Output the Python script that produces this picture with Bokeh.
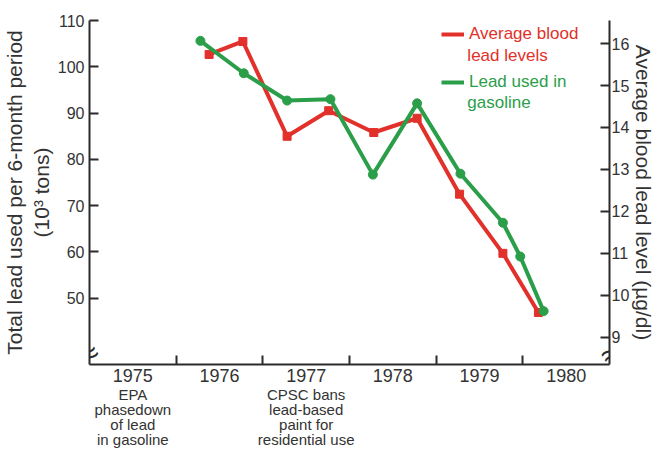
from bokeh.plotting import figure
from bokeh.models import (Range1d, LinearAxis, FixedTicker, Legend, LegendItem, Label)
from bokeh.embed import file_html
from bokeh.resources import INLINE

# ---- data ----
year_labels = ["1975", "1976", "1977", "1978", "1979", "1980"]
year_label_pos = [1975.5, 1976.5, 1977.5, 1978.5, 1979.5, 1980.5]
year_ticks = [1976, 1977, 1978, 1979, 1980]

note_pos = [1975.5, 1977.5]
note_text = ["EPA\nphasedown\nof lead\nin gasoline",
             "CPSC bans\nlead-based\npaint for\nresidential use"]

gas_x = [1976.28, 1976.78, 1977.28, 1977.78, 1978.27, 1978.78, 1979.28, 1979.77, 1979.97, 1980.24]
gas_y = [105.6, 98.6, 92.7, 93.0, 76.7, 92.1, 76.9, 66.3, 59.0, 47.2]

blood_x = [1976.38, 1976.77, 1977.28, 1977.76, 1978.28, 1978.78, 1979.27, 1979.77, 1980.18]
blood_y = [15.74, 16.05, 13.79, 14.40, 13.88, 14.22, 12.41, 11.00, 9.59]

left_ticks = [50, 60, 70, 80, 90, 100, 110]
right_ticks = [9, 10, 11, 12, 13, 14, 15, 16]

RED = "#e2302a"
GREEN = "#2b9e4a"
AX = "#2b2b2b"
TXT = "#333333"
FONT = "Liberation Sans"

p = figure(width=659, height=451, output_backend="svg", toolbar_location=None,
           x_range=Range1d(1975, 1981), y_range=Range1d(35.67, 110),
           min_border_left=88, min_border_right=50, min_border_top=20, min_border_bottom=85)
p.outline_line_color = None
p.xgrid.visible = False
p.ygrid.visible = False
p.background_fill_color = "white"
p.border_fill_color = "white"

p.extra_y_ranges = {"blood": Range1d(8.35, 16.55)}

# x axis (years)
xa = p.xaxis[0]
xa.ticker = FixedTicker(ticks=year_label_pos, minor_ticks=year_ticks)
xa.major_label_overrides = {pos: lab for pos, lab in zip(year_label_pos, year_labels)}
xa.major_tick_line_color = None
xa.major_tick_in = 0
xa.major_tick_out = 0
xa.minor_tick_in = 9
xa.minor_tick_out = 0
xa.minor_tick_line_width = 2
xa.minor_tick_line_color = AX
xa.axis_line_width = 2
xa.axis_line_color = AX
xa.major_label_text_font = FONT
xa.major_label_text_font_size = "18px"
xa.major_label_text_color = TXT
xa.major_label_standoff = 4
xa.axis_label_standoff = 0

# second x axis (notes)
na = LinearAxis(ticker=FixedTicker(ticks=note_pos))
na.major_label_overrides = {pos: t for pos, t in zip(note_pos, note_text)}
na.axis_line_color = None
na.major_tick_line_color = None
na.minor_tick_line_color = None
na.major_tick_in = 0
na.major_tick_out = 0
na.minor_tick_in = 0
na.minor_tick_out = 0
na.major_label_standoff = 1
na.axis_label_standoff = 0
na.major_label_text_font = FONT
na.major_label_text_font_size = "15px"
na.major_label_text_color = TXT
na.major_label_text_line_height = 0.9
p.add_layout(na, "below")

# left axis
ya = p.yaxis[0]
ya.ticker = FixedTicker(ticks=left_ticks)
ya.major_tick_in = 9
ya.major_tick_out = 0
ya.major_tick_line_width = 2
ya.major_tick_line_color = AX
ya.minor_tick_line_color = None
ya.axis_line_width = 2
ya.axis_line_color = AX
ya.major_label_text_font = FONT
ya.major_label_text_font_size = "16px"
ya.major_label_text_color = TXT
ya.major_label_standoff = 5
ya.axis_label = "Total lead used per 6-month period\n(10\u00b3 tons)"
ya.axis_label_text_font = FONT
ya.axis_label_text_font_size = "21px"
ya.axis_label_text_font_style = "normal"
ya.axis_label_text_color = TXT
ya.axis_label_standoff = 2
ya.axis_label_text_line_height = 1.15

# right axis
ra = LinearAxis(y_range_name="blood", ticker=FixedTicker(ticks=right_ticks))
ra.major_tick_in = 9
ra.major_tick_out = 0
ra.major_tick_line_width = 2
ra.major_tick_line_color = AX
ra.minor_tick_line_color = None
ra.axis_line_width = 2
ra.axis_line_color = AX
ra.major_label_text_font = FONT
ra.major_label_text_font_size = "16px"
ra.major_label_text_color = TXT
ra.major_label_standoff = 2
ra.axis_label = "Average blood lead level (\u00b5g/dl)"
ra.axis_label_text_font = FONT
ra.axis_label_text_font_size = "21px"
ra.axis_label_text_font_style = "normal"
ra.axis_label_text_color = TXT
ra.axis_label_standoff = 0
p.add_layout(ra, "right")

# series
blood_line = p.line(blood_x, blood_y, y_range_name="blood", color=RED, line_width=4)
p.scatter(blood_x, blood_y, y_range_name="blood", marker="square", size=8, color=RED)
gas_line = p.line(gas_x, gas_y, color=GREEN, line_width=4)
p.scatter(gas_x, gas_y, marker="circle", size=9, color=GREEN)

# legends
for rend, lab, col, ybot in [(blood_line, "Average blood", RED, 320), (gas_line, "Lead used in", GREEN, 272)]:
    lg = Legend(items=[LegendItem(label=lab, renderers=[rend])], location=(352, ybot),
                padding=0, margin=0, spacing=0, glyph_width=23, glyph_height=18,
                label_height=18, label_standoff=5, border_line_color=None,
                background_fill_alpha=0, label_text_font=FONT,
                label_text_font_size="17px", label_text_color=col)
    p.add_layout(lg, "center")

p.add_layout(Label(x=1979.36, y=102.5, text="lead levels", text_color=RED, text_font=FONT,
                   text_font_size="17px", text_baseline="middle"))
p.add_layout(Label(x=1979.36, y=92.2, text="gasoline", text_color=GREEN, text_font=FONT,
                   text_font_size="17px", text_baseline="middle"))

# axis breaks
for bx in [1975, 1981]:
    p.add_layout(Label(x=bx, y=38.0, text="\u2248", text_align="center", text_baseline="middle",
                       angle=0.55, text_font=FONT, text_font_size="30px", text_color=AX))

open("out.html", "w").write(file_html(p, INLINE))
